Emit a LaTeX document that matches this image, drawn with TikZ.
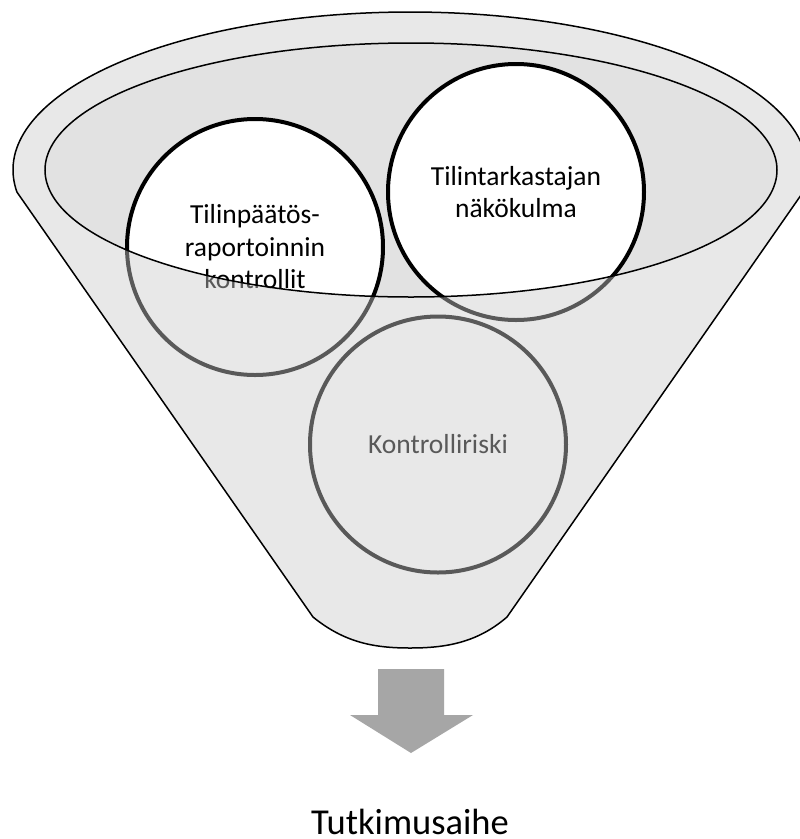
\documentclass[tikz,border=0pt]{standalone}
\usepackage{fontspec}
\setmainfont{Carlito}
\definecolor{innergray}{gray}{0.885}
\definecolor{ovgray}{gray}{0.795}
\definecolor{arrowgray}{HTML}{A6A6A6}
\newcommand{\funnelshape}{(16.9,192) arc[start angle=172, end angle=368, x radius=397, y radius=158] -- (507,617) .. controls (477,643) and (445,648) .. (410,648) .. controls (375,648) and (345,643) .. (313,617) -- cycle}
\tikzset{
  bubble/.style={circle, draw=black, line width=4pt, fill=white, minimum size=256pt, inner sep=0pt, align=center, font=\fontsize{27.5}{32.5}\selectfont, text=black},
  edgeline/.style={draw=black, line width=1.5pt},
}
\begin{document}
\begin{tikzpicture}[x=1pt,y=-1pt]
\clip (0,0) rectangle (800,839);
\fill[white] (0,0) rectangle (800,839);
% inner opening of the funnel
\fill[innergray] (411,170) ellipse [x radius=366, y radius=127];
% circles
\node[bubble] (c1) at (255,247) {Tilinpäätös-\\raportoinnin\\kontrollit};
\node[bubble] (c2) at (516,192) {Tilintarkastajan\\näkökulma};
\node[bubble] (c3) at (438,444.5) {Kontrolliriski};
% translucent funnel front
\fill[ovgray, fill opacity=0.44, even odd rule] \funnelshape (411,170) ellipse [x radius=366, y radius=127];
% outlines
\draw[edgeline, line join=round] \funnelshape;
\draw[edgeline] (411,170) ellipse [x radius=366, y radius=127];
% arrow
\fill[arrowgray] (378,669) -- (444,669) -- (444,715) -- (473,715) -- (411,753) -- (350,715) -- (378,715) -- cycle;
\node[font=\fontsize{36.5}{42}\selectfont, anchor=base, inner sep=0pt] (topic) at (410,834) {Tutkimusaihe};
\end{tikzpicture}
\end{document}
